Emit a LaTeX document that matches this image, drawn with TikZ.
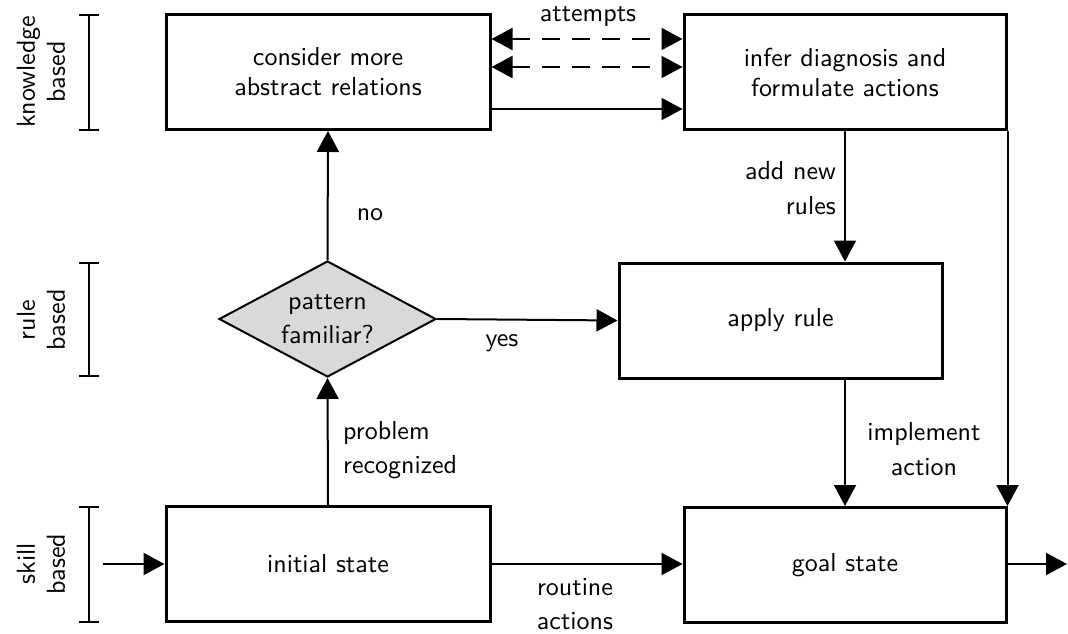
\documentclass[tikz,border=0pt]{standalone}
\usepackage{fontspec}
\newfontfamily\lmsten{lmsans10-regular}[Extension=.otf]
\usetikzlibrary{arrows.meta,shapes.geometric}
\begin{document}
\begin{tikzpicture}[x=1pt,y=-1pt,
  every node/.style={font=\lmsten\fontsize{26}{30}\selectfont},
  edgetext/.style={font=\lmsten\fontsize{26}{34.5}\selectfont},
  stepbox/.style={draw,line width=3pt,minimum width=322pt,minimum height=115pt,align=center,inner sep=0pt},
  decision/.style={diamond,draw,line width=2pt,fill=black!15,minimum width=217pt,minimum height=116pt,aspect=1.87,inner sep=0pt,align=center,edgetext},
  flow/.style={line width=2pt,-{Triangle[length=21pt,width=22pt]}},
  twoway/.style={line width=2pt,dash pattern=on 18pt off 12pt,{Triangle[length=21pt,width=22pt]}-{Triangle[length=21pt,width=22pt]}},
  level/.style={line width=2pt,{Bar[width=20pt]}-{Bar[width=20pt]}},
  lbl/.style={align=center,inner sep=0pt,edgetext},
  sidelbl/.style={rotate=90,align=center,inner sep=0pt}]
\useasboundingbox (0,0) rectangle (1068,634);

% level brackets with their labels
\coordinate (k1) at (89,14);  \coordinate (k2) at (89,131);
\coordinate (r1) at (89,262); \coordinate (r2) at (89,377);
\coordinate (s1) at (89,506); \coordinate (s2) at (89,623);
\draw[level] (k1) -- (k2);
\draw[level] (r1) -- (r2);
\draw[level] (s1) -- (s2);
\node[sidelbl] (klbl) at (41,72) {knowledge\\based};
\node[sidelbl] (rlbl) at (41,320) {rule\\based};
\node[sidelbl] (slbl) at (41,564) {skill\\based};

% process steps
\node[stepbox,minimum width=324pt] (consider) at (328,72) {consider more\\abstract relations};
\node[stepbox] (infer) at (845,72) {infer diagnosis and\\formulate actions};
\node[decision] (familiar) at (327.5,319) {pattern\\familiar?};
\node[stepbox,minimum width=323pt] (apply) at (780.5,320.5) {apply rule};
\node[stepbox,minimum width=324pt] (initial) at (328,564) {initial state};
\node[stepbox] (goal) at (845,565) {goal state};

% knowledge-based loop
\draw[twoway] ([yshift=-26pt]consider.north east) -- ([yshift=-26pt]infer.north west);
\draw[twoway] ([yshift=-54pt]consider.north east) -- ([yshift=-54pt]infer.north west);
\draw[flow] ([yshift=-96pt]consider.north east) -- ([yshift=-96pt]infer.north west);
\node[lbl] (attempts) at (588,17) {attempts};

% main flow
\draw[flow] (familiar.north) -- (consider.south);
\node[lbl] (no) at (370,215) {no};
\draw[flow] (initial.north) -- (familiar.south);
\node[lbl,anchor=west,align=left] (recog) at (343,450) {problem\\recognized};
\draw[flow] (familiar.east) -- (apply.west);
\node[lbl] (yes) at (502,343) {yes};
\draw[flow] (infer.south) -- (infer.south |- apply.north);
\node[lbl,anchor=east,align=right] (newrules) at (836,188) {add new\\rules};
\draw[flow] (goal.north |- apply.south) -- (goal.north);
\node[lbl] (implement) at (924,449) {implement\\action};
\draw[flow] (infer.south east) -- (goal.north east);
\draw[flow] (initial.east) -- (initial.east -| goal.west);
\node[lbl] (routine) at (575,604) {routine\\actions};

% entry and exit
\coordinate (entry) at (103,564);
\coordinate (exit) at (1067,564);
\draw[flow] (entry) -- (initial.west);
\draw[flow] (goal.east |- exit) -- (exit);
\end{tikzpicture}
\end{document}
